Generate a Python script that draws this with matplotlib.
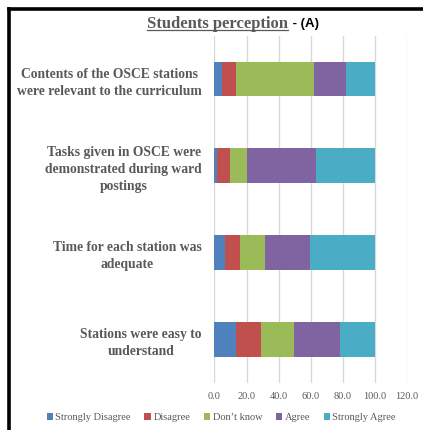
import matplotlib.pyplot as plt
from matplotlib.lines import Line2D
import numpy as np

# statements, listed top to bottom as in the chart
statements = [
    'Contents of the OSCE stations\nwere relevant to the curriculum',
    'Tasks given in OSCE were\ndemonstrated during ward\npostings',
    'Time for each station was\nadequate',
    'Stations were easy to\nunderstand',
]
responses = ['Strongly Disagree', 'Disagree', "Don\u2019t know", 'Agree', 'Strongly Agree']

# percentages per response
strongly_disagree = [4.4, 1.4, 6.4, 13.3]
disagree = [9.1, 8.6, 9.8, 15.8]
dont_know = [48.3, 10.0, 15.6, 20.8]
agree = [20.4, 43.6, 27.7, 28.1]
strongly_agree = [17.8, 36.4, 40.5, 22.0]

colors = ['#4F81BD', '#C0504D', '#9BBB59', '#8064A2', '#4BACC6']
xticks = [0, 20, 40, 60, 80, 100, 120]

serif = 'Liberation Serif'
gray = '#595959'

fig = plt.figure(figsize=(4.23, 4.30), dpi=100)
ax = fig.add_axes([0.507, 0.110, 0.455, 0.807])

series = [strongly_disagree, disagree, dont_know, agree, strongly_agree]
y = np.arange(len(statements))
left = np.zeros(len(statements))
for vals, lab, col in zip(series, responses, colors):
    ax.barh(y, vals, left=left, height=0.4, color=col, label=lab)
    left += np.array(vals)

ax.set_ylim(len(statements) - 0.5, -0.5)
ax.set_xlim(0, 120)
ax.set_xticks(xticks)
ax.set_xticklabels(['%.1f' % v for v in xticks], fontfamily=serif, fontsize=7.5, color=gray)
ax.set_yticks(y)
ax.set_yticklabels(statements, fontfamily=serif, fontsize=9.8, fontweight='bold',
                   color=gray, multialignment='center', linespacing=1.4)
ax.tick_params(axis='both', length=0)
ax.tick_params(axis='y', pad=9)
ax.tick_params(axis='x', pad=7)
ax.grid(axis='x', color='#D9D9D9', linewidth=1)
ax.set_axisbelow(True)
for s in ax.spines.values():
    s.set_visible(False)

leg = fig.legend(loc='center', bbox_to_anchor=(0.523, 0.028), ncol=5, frameon=False,
                 prop={'family': serif, 'size': 7.5}, handlelength=0.6, handleheight=0.6,
                 handletextpad=0.25, columnspacing=1.3, borderaxespad=0)
for t in leg.get_texts():
    t.set_color(gray)

# title in two parts, first part underlined
t1 = fig.text(0.681, 0.944, 'Students perception', ha='right', va='center',
              fontfamily=serif, fontsize=12, fontweight='bold', color=gray)
t2 = fig.text(0.683, 0.944, ' - (A)', ha='left', va='center',
              fontfamily='Liberation Sans', fontsize=9.5, fontweight='bold', color='black')
fig.canvas.draw()
bb = t1.get_window_extent().transformed(fig.transFigure.inverted())
fig.add_artist(Line2D([bb.x0, bb.x1], [bb.y0 + 0.004, bb.y0 + 0.004],
                      transform=fig.transFigure, color=gray, linewidth=0.9))

# black frame on left and top
fig.add_artist(Line2D([9.2 / 423, 9.2 / 423], [0, 1 - 9.2 / 430],
                      transform=fig.transFigure, color='black', linewidth=2.6,
                      solid_capstyle='projecting'))
fig.add_artist(Line2D([9.2 / 423, 1], [1 - 9.2 / 430, 1 - 9.2 / 430],
                      transform=fig.transFigure, color='black', linewidth=2.6,
                      solid_capstyle='projecting'))

fig.savefig('out.png', dpi=100)
